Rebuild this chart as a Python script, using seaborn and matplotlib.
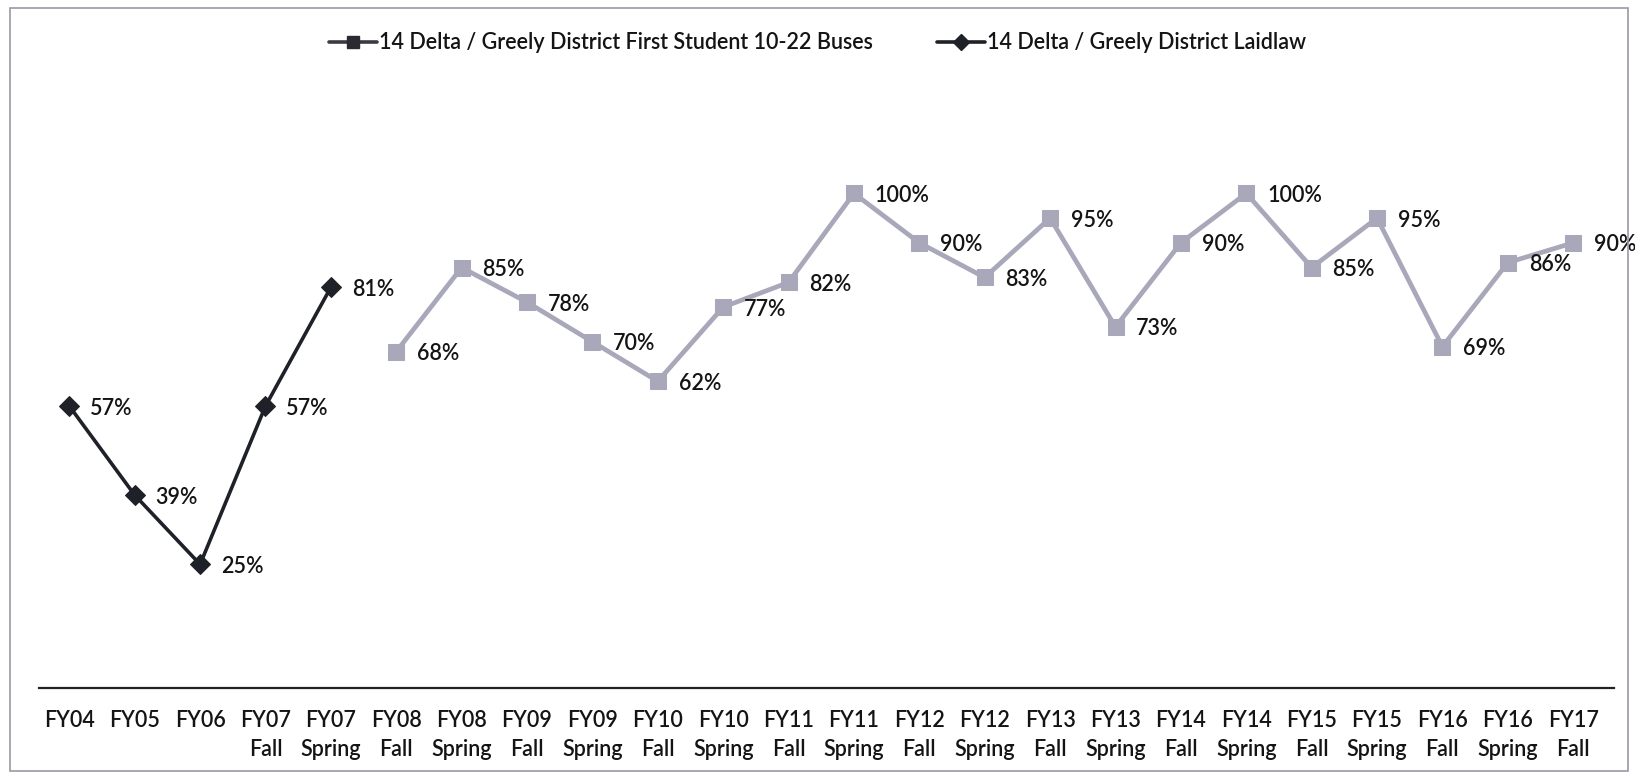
import matplotlib
matplotlib.use("Agg")
import matplotlib.pyplot as plt
import seaborn as sns
import pandas as pd
from matplotlib.patches import Rectangle
from matplotlib.lines import Line2D

categories = ["FY04", "FY05", "FY06", "FY07\nFall", "FY07\nSpring", "FY08\nFall", "FY08\nSpring",
              "FY09\nFall", "FY09\nSpring", "FY10\nFall", "FY10\nSpring", "FY11\nFall", "FY11\nSpring",
              "FY12\nFall", "FY12\nSpring", "FY13\nFall", "FY13\nSpring", "FY14\nFall", "FY14\nSpring",
              "FY15\nFall", "FY15\nSpring", "FY16\nFall", "FY16\nSpring", "FY17\nFall"]

laidlaw_name = "14 Delta / Greely District Laidlaw"
laidlaw_cats = categories[0:5]
laidlaw_vals = [57, 39, 25, 57, 81]

first_name = "14 Delta / Greely District First Student 10-22 Buses"
first_cats = categories[5:]
first_vals = [68, 85, 78, 70, 62, 77, 82, 100, 90, 83, 95, 73, 90, 100, 85, 95, 69, 86, 90]

sns.set_theme(style="white")
plt.rcParams['font.family'] = ['Lato', 'DejaVu Sans']

FS = 15.5
WEIGHT = "semibold"
TXT = "#141414"

pos = {c: i for i, c in enumerate(categories)}
df_first = pd.DataFrame({"x": [pos[c] for c in first_cats], "y": first_vals, "series": first_name})
df_laid = pd.DataFrame({"x": [pos[c] for c in laidlaw_cats], "y": laidlaw_vals, "series": laidlaw_name})

fig = plt.figure(figsize=(16.35, 7.79), dpi=100)
ax = fig.add_axes([0.0236, 0.1168, 0.9634, 0.762])

gray = "#A8A8BA"
dark = "#1E2128"
sns.lineplot(data=df_first, x="x", y="y", color=gray, lw=3.4, marker="s", ms=12,
             mec=gray, mfc=gray, ax=ax, legend=False)
sns.lineplot(data=df_laid, x="x", y="y", color=dark, lw=2.6, marker="D", ms=10,
             mec=dark, mfc=dark, ax=ax, legend=False)

for df in (df_first, df_laid):
    for xv, yv in zip(df["x"], df["y"]):
        ax.annotate(f"{yv}%", (xv, yv), xytext=(15, -1.5), textcoords="offset points",
                    ha="left", va="center", fontsize=FS, color=TXT, fontweight=WEIGHT)

ax.set_xlim(-0.47, 23.62)
ax.set_ylim(0, 120)
ax.set_xticks(range(len(categories)))
ax.set_xticklabels(categories, fontsize=FS, color=TXT, linespacing=1.45, fontweight=WEIGHT)
ax.set_yticks([])
ax.set_xlabel("")
ax.set_ylabel("")
ax.tick_params(axis="x", length=0, pad=16)
for s in ("top", "right", "left"):
    ax.spines[s].set_visible(False)
ax.spines["bottom"].set_color("#222222")
ax.spines["bottom"].set_linewidth(1.6)

handles = [
    Line2D([], [], color="#3A3A44", lw=2.6, marker="s", ms=9, mfc="#2A2A30", mec="#2A2A30"),
    Line2D([], [], color=dark, lw=2.6, marker="D", ms=8, mfc=dark, mec=dark),
]
leg = fig.legend(handles, [first_name, laidlaw_name], loc="center", bbox_to_anchor=(0.5, 0.945),
                 ncol=2, frameon=False, prop={"size": FS, "weight": WEIGHT},
                 handlelength=2.2, handletextpad=0.1, columnspacing=3.0)
for t in leg.get_texts():
    t.set_color(TXT)

fig.patches.append(Rectangle((0.006, 0.01), 0.99, 0.98, transform=fig.transFigure,
                             fill=False, edgecolor="#9A9AA6", lw=1.2))

fig.savefig("out.png", dpi=100)
